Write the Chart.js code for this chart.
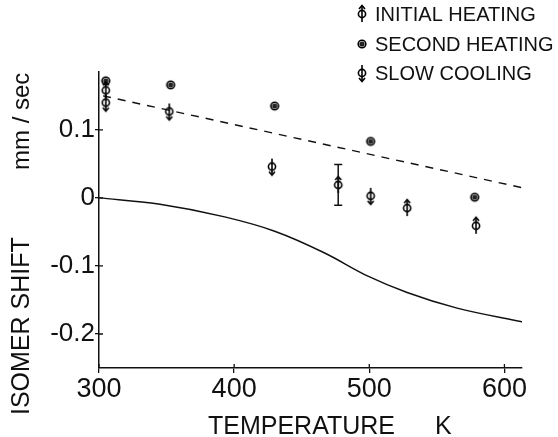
<!DOCTYPE html>
<html>
<head>
<meta charset="utf-8">
<script src="https://cdn.jsdelivr.net/npm/chart.js@4.4.1/dist/chart.umd.min.js"></script>
<style>
  body { margin: 0; background: #fff; }
  #wrap { width: 558px; height: 437px; }
</style>
</head>
<body>
<div id="wrap"><canvas id="chart" width="558" height="437"></canvas></div>
<script>
// data
const tempInitial = [305, 477, 528, 579];
const shiftInitial = [0.158, 0.019, -0.015, -0.041];
const errInitial = [0, 0.03, 0, 0];

const tempSecond = [305, 353, 430, 501, 578];
const shiftSecond = [0.172, 0.166, 0.135, 0.083, 0.001];

const tempSlow = [305, 352, 428, 501];
const shiftSlow = [0.140, 0.127, 0.046, 0.003];

const tempDashed = [303, 613];
const shiftDashed = [0.150, 0.015];

const tempCurve = [300, 344, 393, 430, 467, 499, 528, 565, 613];
const shiftCurve = [0, -0.009, -0.028, -0.049, -0.081, -0.115, -0.139, -0.162, -0.182];

const xTicks = [300, 400, 500, 600];
const yTicks = [-0.2, -0.1, 0, 0.1];

const legendNames = ['INITIAL HEATING', 'SECOND HEATING', 'SLOW COOLING'];

const ink = '#111';
const font = '"Liberation Sans", Arial, sans-serif';

function toPoints(xs, ys) {
  return xs.map((x, i) => ({ x: x, y: ys[i] }));
}

// marker images: circle with arrow up / dotted circle / circle with arrow down
function makeMarker(kind) {
  const c = document.createElement('canvas');
  c.width = 14;
  c.height = 22;
  const g = c.getContext('2d');
  const cx = 7, cy = 11;
  g.strokeStyle = '#000';
  g.fillStyle = '#000';
  g.lineWidth = 1.6;
  if (kind === 'second') {
    g.beginPath();
    g.arc(cx, cy, 3.8, 0, Math.PI * 2);
    g.stroke();
    g.fillStyle = '#222';
    g.beginPath();
    g.arc(cx, cy, 2.6, 0, Math.PI * 2);
    g.fill();
    return c;
  }
  g.beginPath();
  g.arc(cx, cy, 3.6, 0, Math.PI * 2);
  g.stroke();
  g.beginPath();
  g.moveTo(cx, cy - 8);
  g.lineTo(cx, cy + 8);
  g.stroke();
  g.beginPath();
  if (kind === 'up') {
    g.moveTo(cx - 3, cy - 5);
    g.lineTo(cx, cy - 8.5);
    g.lineTo(cx + 3, cy - 5);
  } else {
    g.moveTo(cx - 3, cy + 5);
    g.lineTo(cx, cy + 8.5);
    g.lineTo(cx + 3, cy + 5);
  }
  g.stroke();
  return c;
}

const markUp = makeMarker('up');
const markSecond = makeMarker('second');
const markDown = makeMarker('down');

const extras = {
  id: 'extras',
  afterDatasetsDraw(chart) {
    const ctx = chart.ctx;
    const xs = chart.scales.x, ys = chart.scales.y;
    ctx.save();
    ctx.strokeStyle = ink;
    ctx.lineWidth = 1.5;
    // error bars
    errInitial.forEach((e, i) => {
      if (!e) return;
      const px = xs.getPixelForValue(tempInitial[i]);
      const top = ys.getPixelForValue(shiftInitial[i] + e);
      const bot = ys.getPixelForValue(shiftInitial[i] - e);
      ctx.beginPath();
      ctx.moveTo(px, top); ctx.lineTo(px, bot);
      ctx.moveTo(px - 4, top); ctx.lineTo(px + 4, top);
      ctx.moveTo(px - 4, bot); ctx.lineTo(px + 4, bot);
      ctx.stroke();
    });
    ctx.restore();
  },
  afterDraw(chart) {
    const ctx = chart.ctx;
    const area = chart.chartArea;
    ctx.save();
    ctx.fillStyle = ink;
    // legend
    const marks = [markUp, markSecond, markDown];
    const rows = [14, 44, 73];
    ctx.font = '20px ' + font;
    ctx.textBaseline = 'middle';
    ctx.textAlign = 'left';
    rows.forEach((y, i) => {
      ctx.drawImage(marks[i], 362 - 7, y - 11);
      ctx.fillText(legendNames[i], 375, y + 1);
    });
    // x title
    ctx.font = '25px ' + font;
    ctx.textBaseline = 'alphabetic';
    ctx.fillText('TEMPERATURE', 208, 434);
    ctx.fillText('K', 435, 434);
    // y title
    ctx.save();
    ctx.translate(29, 415);
    ctx.rotate(-Math.PI / 2);
    ctx.font = '25px ' + font;
    ctx.fillText('ISOMER SHIFT', 0, 0);
    ctx.restore();
    ctx.save();
    ctx.translate(29, 170);
    ctx.rotate(-Math.PI / 2);
    ctx.font = '24px ' + font;
    ctx.fillText('mm / sec', 0, 0);
    ctx.restore();
    // small inward tick marks
    ctx.strokeStyle = ink;
    ctx.lineWidth = 1.3;
    ctx.beginPath();
    xTicks.forEach(v => {
      const px = chart.scales.x.getPixelForValue(v);
      ctx.moveTo(px, area.bottom); ctx.lineTo(px, area.bottom - 4);
    });
    yTicks.forEach(v => {
      const py = chart.scales.y.getPixelForValue(v);
      ctx.moveTo(area.left, py); ctx.lineTo(area.left + 4, py);
    });
    ctx.stroke();
    ctx.restore();
  }
};

new Chart(document.getElementById('chart'), {
  type: 'scatter',
  data: {
    datasets: [
      {
        label: legendNames[0],
        data: toPoints(tempInitial, shiftInitial),
        pointStyle: markUp,
      },
      {
        label: legendNames[1],
        data: toPoints(tempSecond, shiftSecond),
        pointStyle: markSecond,
      },
      {
        label: legendNames[2],
        data: toPoints(tempSlow, shiftSlow),
        pointStyle: markDown,
      },
      {
        label: 'dashed',
        data: toPoints(tempDashed, shiftDashed),
        showLine: true,
        borderColor: ink,
        borderWidth: 1.4,
        borderDash: [8, 7],
        pointRadius: 0,
      },
      {
        label: 'curve',
        data: toPoints(tempCurve, shiftCurve),
        showLine: true,
        borderColor: ink,
        borderWidth: 1.4,
        cubicInterpolationMode: 'monotone',
        pointRadius: 0,
      },
    ],
  },
  options: {
    responsive: false,
    animation: false,
    layout: { padding: { top: 72, right: 36, left: 0, bottom: 0 } },
    plugins: {
      legend: { display: false },
      tooltip: { enabled: false },
    },
    scales: {
      x: {
        type: 'linear',
        min: 300,
        max: 613,
        afterBuildTicks: s => { s.ticks = xTicks.map(v => ({ value: v })); },
        afterFit: s => { s.height = 69; },
        border: { display: true, color: ink, width: 1.5 },
        grid: { drawOnChartArea: false, color: ink, lineWidth: 1.3, tickLength: 5 },
        ticks: {
          color: ink,
          font: { family: font, size: 27 },
          padding: 0,
          maxRotation: 0,
        },
      },
      y: {
        type: 'linear',
        min: -0.25,
        max: 0.185,
        afterBuildTicks: s => { s.ticks = yTicks.map(v => ({ value: v })); },
        afterFit: s => { s.width = 99; },
        border: { display: true, color: ink, width: 1.5 },
        grid: { drawOnChartArea: false, color: ink, lineWidth: 1.3, tickLength: 4 },
        ticks: {
          color: ink,
          font: { family: font, size: 26 },
          padding: 0,
          callback: v => (v === 0 ? '0' : v.toFixed(1)),
        },
      },
    },
  },
  plugins: [extras],
});
</script>
</body>
</html>
